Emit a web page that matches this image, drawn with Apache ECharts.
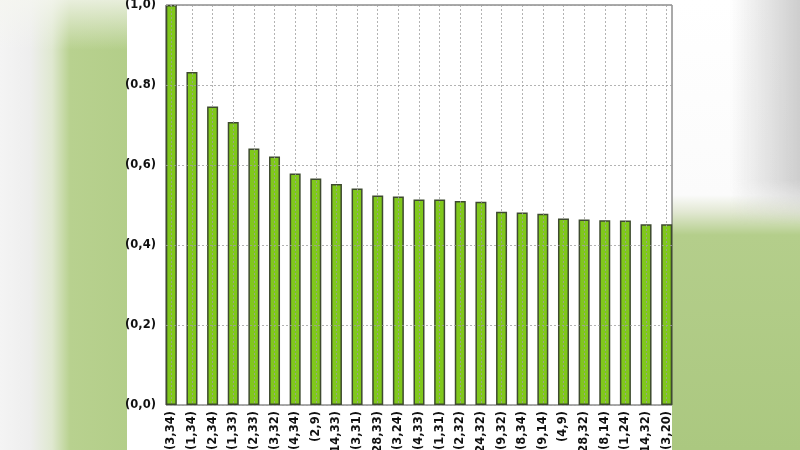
<!DOCTYPE html>
<html>
<head>
<meta charset="utf-8">
<script src="https://cdn.jsdelivr.net/npm/echarts@6/dist/echarts.min.js"></script>
<style>
  html, body { margin: 0; padding: 0; }
  #wrap { position: relative; width: 800px; height: 450px; overflow: hidden; background: #ffffff; }
  .bg { position: absolute; }
  #chart { position: absolute; left: 0; top: 0; width: 800px; height: 450px; }
</style>
</head>
<body>
<div id="wrap">
  <!-- blurred backdrop on both sides -->
  <div class="bg" style="left:0;top:0;width:127px;height:450px;background:linear-gradient(90deg,#f4f4f4 0px,#eeeeee 30px,#dfe8d0 52px,#b8d18f 70px,#b3ce89 127px);"></div>
  <div class="bg" style="left:0;top:0;width:127px;height:50px;background:linear-gradient(180deg,rgba(245,246,240,0.8),rgba(245,246,240,0));"></div>
  <div class="bg" style="left:672px;top:0;width:128px;height:450px;background:linear-gradient(180deg,#ffffff 0px,#fbfbfb 195px,#e2e8d3 212px,#b4ce8b 235px,#abc880 450px);"></div>
  <div class="bg" style="left:730px;top:0;width:70px;height:240px;background:linear-gradient(90deg,rgba(215,215,215,0),rgba(200,200,200,0.9));-webkit-mask-image:linear-gradient(180deg,#000 0px,#000 180px,transparent 225px);mask-image:linear-gradient(180deg,#000 0px,#000 180px,transparent 225px);"></div>
  <div id="chart"></div>
</div>
<script>
  // pairs, sorted by score
  const categories = ['(3,34)', '(1,34)', '(2,34)', '(1,33)', '(2,33)', '(3,32)', '(4,34)', '(2,9)', '(14,33)',
    '(3,31)', '(28,33)', '(3,24)', '(4,33)', '(1,31)', '(2,32)', '(24,32)', '(9,32)', '(8,34)', '(9,14)',
    '(4,9)', '(28,32)', '(8,14)', '(1,24)', '(14,32)', '(3,20)'];
  const values = [1.0, 0.8325, 0.746, 0.7075, 0.641, 0.621, 0.579, 0.566, 0.5525,
    0.541, 0.524, 0.521, 0.514, 0.514, 0.51, 0.508, 0.483, 0.481, 0.478,
    0.466, 0.464, 0.462, 0.461, 0.452, 0.452];
  const yTickLabels = ['(0,0)', '(0,2)', '(0,4)', '(0,6)', '(0.8)', '(1,0)'];

  const myChart = echarts.init(document.getElementById('chart'));
  const labelFont = { fontFamily: 'DejaVu Sans', fontWeight: 'bold', fontSize: 11.5, color: '#111' };
  const gridLine = { show: true, lineStyle: { color: 'rgba(160,160,160,0.8)', type: [2, 2], width: 1 } };

  const option = {
    animation: false,
    backgroundColor: 'transparent',
    grid: [
      // bars (slightly wider so bars touch the frame edges)
      { left: 161, width: 516, top: 5, height: 400, outerBoundsMode: 'none', containLabel: false },
      // frame
      { left: 166, width: 506, top: 5, height: 400, outerBoundsMode: 'none', containLabel: false,
        show: true, borderColor: '#555', borderWidth: 1, backgroundColor: 'transparent' }
    ],
    xAxis: [
      {
        type: 'category',
        gridIndex: 0,
        data: categories,
        z: 5,
        axisLine: { show: false },
        axisTick: { show: false, alignWithLabel: true },
        axisLabel: Object.assign({ rotate: 90, interval: 0, margin: 6 }, labelFont),
        splitLine: Object.assign({ alignWithLabel: true, interval: 0 }, gridLine)
      },
      {
        type: 'value',
        gridIndex: 1,
        min: 0,
        max: 1,
        show: false
      }
    ],
    yAxis: [
      { type: 'value', gridIndex: 0, min: 0, max: 1, show: false },
      {
        type: 'value',
        gridIndex: 1,
        min: 0,
        max: 1,
        interval: 0.2,
        z: 5,
        axisLine: { show: false },
        axisTick: { show: false },
        axisLabel: Object.assign({
          margin: 10,
          formatter: function (v) { return yTickLabels[Math.round(v / 0.2)]; }
        }, labelFont),
        splitLine: gridLine
      }
    ],
    series: [
      {
        type: 'bar',
        xAxisIndex: 0,
        yAxisIndex: 0,
        data: values,
        barWidth: 11,
        itemStyle: { color: '#80c81c', borderColor: '#3e4a30', borderWidth: 1.5 }
      }
    ]
  };

  myChart.setOption(option);
</script>
</body>
</html>
